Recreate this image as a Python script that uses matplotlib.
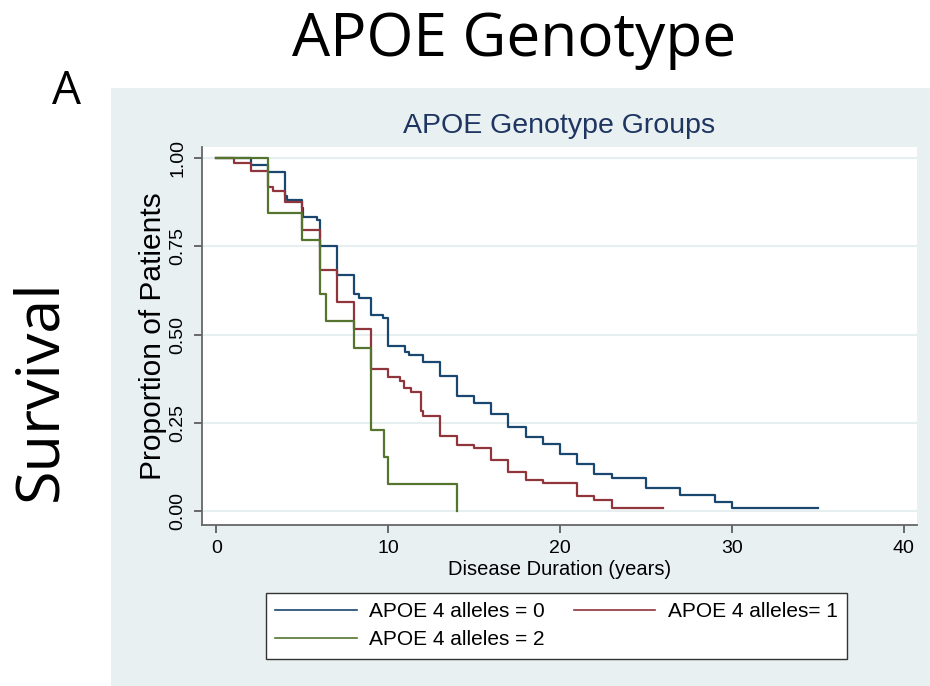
import matplotlib
matplotlib.use('Agg')
import matplotlib.pyplot as plt
from matplotlib.patches import Rectangle

# Kaplan-Meier step data (time in years, survival proportion)
apoe0_time = [0, 2, 3, 4, 4.1, 5, 5.05, 5.83, 6, 7, 8, 8.3, 9, 9.68, 10, 11, 11.2, 12,
              13, 14, 15, 16, 17, 18, 19, 20, 21, 22, 23, 25, 27, 29, 30, 35]
apoe0_surv = [1.0, 0.98, 0.96, 0.892, 0.882, 0.86, 0.835, 0.826, 0.75, 0.67, 0.616, 0.605,
              0.556, 0.547, 0.469, 0.45, 0.442, 0.421, 0.384, 0.326, 0.306, 0.276, 0.239,
              0.209, 0.189, 0.161, 0.132, 0.105, 0.093, 0.066, 0.045, 0.026, 0.007, 0.007]

apoe1_time = [0, 1, 2, 3, 3.3, 4, 5, 6, 7, 8, 9, 10, 10.7, 10.9, 11.3, 11.9, 12, 13, 14,
              15, 16, 17, 18, 19, 21, 22, 23, 26]
apoe1_surv = [1.0, 0.987, 0.965, 0.92, 0.908, 0.875, 0.797, 0.684, 0.593, 0.516, 0.402,
              0.381, 0.369, 0.348, 0.336, 0.282, 0.27, 0.212, 0.187, 0.178, 0.143, 0.109,
              0.088, 0.079, 0.043, 0.031, 0.009, 0.009]

apoe2_time = [0, 3, 5, 6, 6.4, 8, 9, 9.76, 10, 14]
apoe2_surv = [1.0, 11/13, 10/13, 8/13, 7/13, 6/13, 3/13, 2/13, 1/13, 0.0]

labels = ['APOE 4 alleles = 0', 'APOE 4 alleles= 1', 'APOE 4 alleles = 2']
colors = ['#1a476f', '#90353b', '#55752f']
x_ticks = [0, 10, 20, 30, 40]
y_ticks = [0.0, 0.25, 0.5, 0.75, 1.0]

W, H = 930, 686
fig = plt.figure(figsize=(W / 100, H / 100), dpi=100)
fig.patch.set_facecolor('white')

# light bluish graph region
fig.patches.append(Rectangle((111 / W, 0), 1 - 111 / W, 1 - 87.5 / H,
                             transform=fig.transFigure, facecolor='#e8f0f2',
                             edgecolor='none', zorder=0))

# outer labels
fig.text(514 / W, 1 - 40 / H, 'APOE Genotype', fontsize=43.5, family='Open Sans',
         ha='center', va='center')
fig.text(67 / W, 1 - 92 / H, 'A', fontsize=33, family='Open Sans',
         ha='center', va='center')
fig.text(40 / W, 1 - 390 / H, 'Survival', fontsize=44, family='Open Sans',
         rotation=90, ha='center', va='center')

left, right, top, bottom = 201.7, 917.3, 146.7, 525
ax = fig.add_axes([left / W, 1 - bottom / H, (right - left) / W, (bottom - top) / H])
ax.set_zorder(2)
ax.set_facecolor('white')

series = [(apoe0_time, apoe0_surv), (apoe1_time, apoe1_surv), (apoe2_time, apoe2_surv)]
handles = []
for (t, s), lab, c in zip(series, labels, colors):
    h, = ax.step(t, s, where='post', color=c, lw=1.6, label=lab, zorder=3)
    handles.append(h)

ax.set_xlim(-0.86, 40.8)
ax.set_ylim(-0.04, 1.033)
ax.set_xticks(x_ticks)
ax.set_yticks(y_ticks)
ax.set_yticklabels(['%.2f' % v for v in y_ticks], rotation=90, va='center',
                   family='Liberation Sans', fontsize=14)
ax.set_xticklabels([str(v) for v in x_ticks], family='Liberation Sans', fontsize=14)
ax.grid(axis='y', color='#e6eef0', lw=1.5, zorder=0)
for sp in ['top', 'right']:
    ax.spines[sp].set_visible(False)
for sp in ['left', 'bottom']:
    ax.spines[sp].set_color('#666666')
    ax.spines[sp].set_linewidth(1.3)
ax.tick_params(direction='out', length=6, width=1.1, color='#444444', pad=5)

ax.set_xlabel('Disease Duration (years)', family='Liberation Sans', fontsize=14.5,
              labelpad=2)
ax.set_ylabel('Proportion of Patients', family='Liberation Sans', fontsize=21.5,
              labelpad=2)
ax.set_title('APOE Genotype Groups', family='Liberation Sans', fontsize=20.5,
             color='#1e3560', pad=10)

# legend: columns fill first, so order 0, 2 | 1 gives rows (0, 1) and (2)
order = [0, 2, 1]
leg = fig.legend(handles=[handles[i] for i in order], labels=[labels[i] for i in order],
                 ncol=2, loc='upper left', bbox_to_anchor=(266 / W, 1 - 592.7 / H),
                 prop={'family': 'Liberation Sans', 'size': 15},
                 handlelength=3.9, handletextpad=0.6, columnspacing=1.4,
                 labelspacing=0.45, borderpad=0.45, borderaxespad=0,
                 fancybox=False, framealpha=1, edgecolor='#333333')
leg.set_zorder(3)
leg.get_frame().set_linewidth(1.0)
for line in leg.get_lines():
    line.set_linewidth(1.2)

fig.savefig('out.png', dpi=100)
